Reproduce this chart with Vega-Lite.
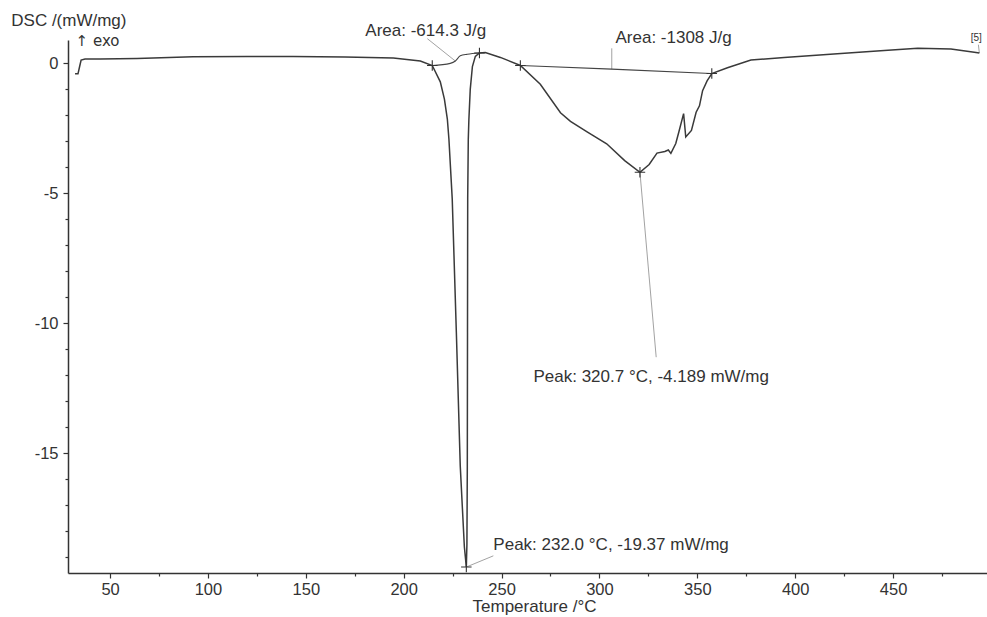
{
  "$schema": "https://vega.github.io/schema/vega-lite/v6.json",
  "width": 919,
  "height": 533,
  "autosize": "none",
  "padding": {"left": 68, "top": 40, "right": 0, "bottom": 44},
  "background": "white",
  "config": {"view": {"stroke": null}, "font": "Liberation Sans", "axis": {"grid": false}},
  "datasets": {
    "curve": [
      {"T": 32.1, "v": -0.40}, {"T": 33.6, "v": -0.40}, {"T": 34.5, "v": -0.10}, {"T": 35.2, "v": 0.13},
      {"T": 37.2, "v": 0.17}, {"T": 45.0, "v": 0.17}, {"T": 63.8, "v": 0.19}, {"T": 92.4, "v": 0.26},
      {"T": 120.0, "v": 0.27}, {"T": 143.5, "v": 0.27}, {"T": 170.0, "v": 0.25}, {"T": 194.7, "v": 0.21},
      {"T": 208.5, "v": 0.09}, {"T": 214.6, "v": -0.08}, {"T": 218.7, "v": -0.71}, {"T": 220.8, "v": -1.37},
      {"T": 222.3, "v": -2.14}, {"T": 223.1, "v": -2.91}, {"T": 224.8, "v": -5.22}, {"T": 226.9, "v": -10.34},
      {"T": 228.9, "v": -15.49}, {"T": 231.0, "v": -18.6}, {"T": 232.0, "v": -19.37}, {"T": 232.3, "v": -18.5},
      {"T": 232.5, "v": -15.5}, {"T": 232.6, "v": -10.35}, {"T": 232.7, "v": -5.2}, {"T": 233.0, "v": -2.92},
      {"T": 233.3, "v": -2.17}, {"T": 234.0, "v": -1.0}, {"T": 235.1, "v": -0.12}, {"T": 236.6, "v": 0.27},
      {"T": 238.7, "v": 0.40}, {"T": 241.7, "v": 0.42}, {"T": 249.4, "v": 0.23}, {"T": 259.6, "v": -0.08},
      {"T": 269.8, "v": -0.80}, {"T": 280.1, "v": -1.90}, {"T": 285.2, "v": -2.23}, {"T": 293.7, "v": -2.63},
      {"T": 303.7, "v": -3.09}, {"T": 312.9, "v": -3.74}, {"T": 320.7, "v": -4.189}, {"T": 325.4, "v": -3.89},
      {"T": 329.4, "v": -3.45}, {"T": 333.4, "v": -3.39}, {"T": 335.2, "v": -3.33}, {"T": 336.5, "v": -3.46},
      {"T": 339.0, "v": -3.08}, {"T": 340.6, "v": -2.63}, {"T": 343.0, "v": -1.93}, {"T": 344.1, "v": -2.83},
      {"T": 347.0, "v": -2.58}, {"T": 349.4, "v": -1.88}, {"T": 351.1, "v": -1.63}, {"T": 352.7, "v": -1.05},
      {"T": 355.0, "v": -0.67}, {"T": 357.4, "v": -0.39}, {"T": 365.4, "v": -0.17}, {"T": 377.4, "v": 0.13},
      {"T": 394.4, "v": 0.23}, {"T": 423.4, "v": 0.38}, {"T": 445.5, "v": 0.50}, {"T": 462.6, "v": 0.58},
      {"T": 479.6, "v": 0.55}, {"T": 491.5, "v": 0.43}, {"T": 494.1, "v": 0.40}
    ],
    "base": [
      {"seg": "a", "T": 214.6, "v": -0.08}, {"seg": "a", "T": 223.8, "v": 0.0}, {"seg": "a", "T": 226.4, "v": 0.09},
      {"seg": "a", "T": 228.9, "v": 0.29}, {"seg": "a", "T": 232.5, "v": 0.35}, {"seg": "a", "T": 238.7, "v": 0.40},
      {"seg": "b", "T": 259.6, "v": -0.08}, {"seg": "b", "T": 306.3, "v": -0.22}, {"seg": "b", "T": 357.4, "v": -0.39}
    ],
    "leaders": [
      {"T": 212.1, "v": 0.95, "T2": 226.4, "v2": 0.09},
      {"T": 306.3, "v": 0.58, "T2": 306.3, "v2": -0.22},
      {"T": 320.7, "v": -4.189, "T2": 329.0, "v2": -11.3},
      {"T": 232.0, "v": -19.37, "T2": 245.8, "v2": -18.94},
      {"T": 493.6, "v": 0.72, "T2": 494.1, "v2": 0.40}
    ],
    "marks": [
      {"T": 214.6, "v": -0.08}, {"T": 238.7, "v": 0.40}, {"T": 259.6, "v": -0.08},
      {"T": 357.4, "v": -0.39}, {"T": 232.0, "v": -19.37}, {"T": 320.7, "v": -4.189}
    ],
    "notes": [
      {"label": "Area: -614.3 J/g", "T": 180.4, "v": 1.04},
      {"label": "Area: -1308 J/g", "T": 308.2, "v": 0.77},
      {"label": "Peak: 320.7 °C, -4.189 mW/mg", "T": 266.3, "v": -12.24},
      {"label": "Peak: 232.0 °C, -19.37 mW/mg", "T": 245.8, "v": -18.71}
    ]
  },
  "layer": [
    {
      "data": {"name": "leaders"},
      "mark": {"type": "rule", "color": "#8a8a8a", "strokeWidth": 0.8},
      "encoding": {
        "x": {"field": "T", "type": "quantitative", "scale": {"domain": [28.5, 498], "nice": false, "zero": false},
          "axis": {"orient": "bottom", "values": [50, 100, 150, 200, 250, 300, 350, 400, 450], "tickSize": 5, "tickWidth": 1.2,
            "tickColor": "#333", "domainColor": "#333", "domainWidth": 1.5, "labelFontSize": 16.5, "labelColor": "#333",
            "labelPadding": 3, "labelExpr": "datum.value + ''", "title": "Temperature /°C", "titleFontSize": 17, "titleFontWeight": "normal", "titleColor": "#333",
            "titleX": 466, "titleY": 38, "titleAlign": "center", "titleBaseline": "alphabetic", "titleAnchor": null}},
        "y": {"field": "v", "type": "quantitative", "scale": {"domain": [-19.6, 0.9], "nice": false, "zero": false},
          "axis": {"orient": "left", "values": [0, -5, -10, -15], "tickSize": 5, "tickWidth": 1.2, "tickColor": "#333",
            "domainColor": "#333", "domainWidth": 1.5, "labelFontSize": 16.5, "labelColor": "#333", "labelPadding": 5,
            "labelExpr": "datum.value + ''",
            "title": "DSC /(mW/mg)", "titleFontSize": 17, "titleFontWeight": "normal", "titleColor": "#333",
            "titleAngle": 0, "titleAlign": "right", "titleBaseline": "alphabetic", "titleX": 58, "titleY": -15, "titleAnchor": null}},
        "x2": {"field": "T2"},
        "y2": {"field": "v2"}
      }
    },
    {
      "data": {"name": "base"},
      "mark": {"type": "line", "color": "#444", "strokeWidth": 1.1, "interpolate": "monotone"},
      "encoding": {
        "x": {"field": "T", "type": "quantitative", "scale": {"domain": [28.5, 498], "nice": false, "zero": false},
          "axis": {"orient": "bottom", "values": [75, 125, 175, 225, 275, 325, 375, 425, 475], "tickSize": 3, "tickWidth": 1.2,
            "tickColor": "#333", "labels": false, "domain": false, "title": null}},
        "y": {"field": "v", "type": "quantitative", "scale": {"domain": [-19.6, 0.9], "nice": false, "zero": false},
          "axis": {"orient": "left", "values": [-1, -2, -3, -4, -6, -7, -8, -9, -11, -12, -13, -14, -16, -17, -18, -19],
            "tickSize": 3, "tickWidth": 1.2, "tickColor": "#333", "labels": false, "domain": false,
            "title": "↑ exo", "titleFont": "DejaVu Sans", "titleFontSize": 15, "titleFontWeight": "normal", "titleColor": "#333",
            "titleAngle": 0, "titleAlign": "right", "titleBaseline": "alphabetic", "titleX": 51, "titleY": 5, "titleAnchor": null}},
        "detail": {"field": "seg"}
      }
    },
    {
      "data": {"name": "curve"},
      "mark": {"type": "line", "color": "#3a3a3a", "strokeWidth": 1.5},
      "encoding": {
        "x": {"field": "T", "type": "quantitative", "scale": {"domain": [28.5, 498], "nice": false, "zero": false}, "axis": null},
        "y": {"field": "v", "type": "quantitative", "scale": {"domain": [-19.6, 0.9], "nice": false, "zero": false}, "axis": null}
      }
    },
    {
      "data": {"name": "marks"},
      "mark": {"type": "point", "shape": "M-1,0H1M0,-1V1", "size": 110, "filled": false, "stroke": "#333", "strokeWidth": 1.1, "opacity": 1},
      "encoding": {
        "x": {"field": "T", "type": "quantitative", "scale": {"domain": [28.5, 498], "nice": false, "zero": false}, "axis": null},
        "y": {"field": "v", "type": "quantitative", "scale": {"domain": [-19.6, 0.9], "nice": false, "zero": false}, "axis": null}
      }
    },
    {
      "data": {"name": "notes"},
      "mark": {"type": "text", "align": "left", "baseline": "alphabetic", "fontSize": 17, "color": "#333"},
      "encoding": {
        "x": {"field": "T", "type": "quantitative", "scale": {"domain": [28.5, 498], "nice": false, "zero": false}, "axis": null},
        "y": {"field": "v", "type": "quantitative", "scale": {"domain": [-19.6, 0.9], "nice": false, "zero": false}, "axis": null},
        "text": {"field": "label"}
      }
    },
    {
      "data": {"values": [{"label": "[5]", "T": 489.7, "v": 0.85}]},
      "mark": {"type": "text", "align": "left", "baseline": "alphabetic", "fontSize": 10, "color": "#333"},
      "encoding": {
        "x": {"field": "T", "type": "quantitative", "scale": {"domain": [28.5, 498], "nice": false, "zero": false}, "axis": null},
        "y": {"field": "v", "type": "quantitative", "scale": {"domain": [-19.6, 0.9], "nice": false, "zero": false}, "axis": null},
        "text": {"field": "label"}
      }
    }
  ],
  "resolve": {"axis": {"x": "independent", "y": "independent"}}
}
